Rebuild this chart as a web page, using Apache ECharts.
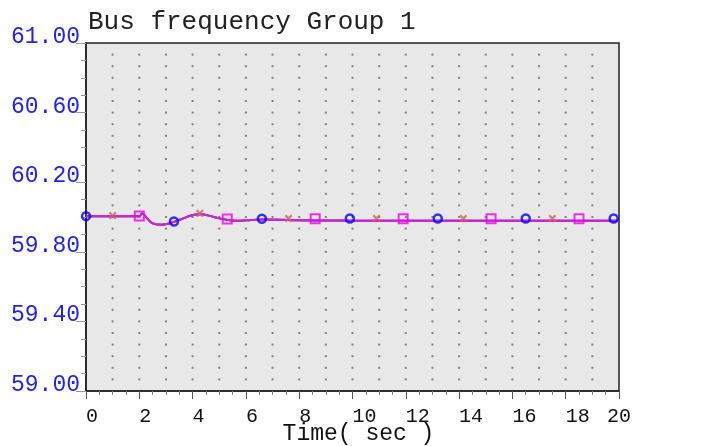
<!DOCTYPE html>
<html>
<head>
<meta charset="utf-8">
<script src="https://cdn.jsdelivr.net/npm/echarts@6/dist/echarts.min.js"></script>
<style>
html,body{margin:0;padding:0;background:#fff;}
#c{width:725px;height:446px;}
</style>
</head>
<body>
<div id="c"></div>
<script>
// ---- data ----
var titleText = 'Bus frequency Group 1';
var xName = 'Time( sec )';
var timeSec = [0, 1, 2, 2.1, 2.25, 2.5, 2.8, 3.1, 3.3, 3.7, 4.0, 4.3, 4.6, 5.0, 5.4, 5.8, 6.2, 6.6, 7.2, 8.0, 9.0, 10, 12, 14, 16, 18, 20];
var freqBlue    = [60.004, 60.004, 60.004, 60.020, 60.000, 59.963, 59.956, 59.962, 59.972, 59.995, 60.012, 60.016, 60.008, 59.992, 59.982, 59.979, 59.983, 59.985, 59.984, 59.981, 59.980, 59.979, 59.978, 59.978, 59.978, 59.978, 59.978];
var freqRed     = [60.004, 60.004, 60.004, 60.020, 60.000, 59.963, 59.956, 59.962, 59.972, 59.995, 60.012, 60.016, 60.008, 59.992, 59.982, 59.979, 59.983, 59.985, 59.984, 59.981, 59.980, 59.979, 59.978, 59.978, 59.978, 59.978, 59.978];
var freqMagenta = [60.004, 60.004, 60.004, 60.022, 60.000, 59.963, 59.956, 59.962, 59.972, 59.995, 60.012, 60.016, 60.008, 59.992, 59.982, 59.979, 59.983, 59.985, 59.984, 59.981, 59.980, 59.979, 59.978, 59.978, 59.978, 59.978, 59.978];
var circleT = [0, 3.3, 6.6, 9.9, 13.2, 16.5, 19.8];
var circleV = [60.005, 59.974, 59.990, 59.991, 59.991, 59.991, 59.991];
var crossT  = [1.0, 4.27, 7.6, 10.9, 14.16, 17.5];
var crossV  = [60.008, 60.021, 59.992, 59.992, 59.992, 59.992];
var squareT = [2.0, 5.3, 8.6, 11.9, 15.2, 18.5];
var squareV = [60.006, 59.989, 59.990, 59.990, 59.990, 59.990];
var xMin = 0, xMax = 20, xStep = 2;
var yMin = 59.0, yMax = 61.0, yStep = 0.4;

function pairs(xs, ys){ return xs.map(function(x,i){ return [x, ys[i]]; }); }

// dotted background grid (1 s horizontally, 1/30 of range vertically)
var dots = [];
for (var gx = 1; gx < 20; gx++) {
  for (var gy = 1; gy < 30; gy++) {
    dots.push([gx, yMin + gy * (yMax - yMin) / 30]);
  }
}

var mono = 'Liberation Mono';
var chart = echarts.init(document.getElementById('c'), null, {renderer: 'canvas'});
chart.setOption({
  animation: false,
  backgroundColor: '#ffffff',
  title: {
    text: titleText, left: 83, top: 4,
    textStyle: {fontFamily: mono, fontSize: 26, fontWeight: 'normal', color: '#222'}
  },
  grid: {
    left: 86, top: 43, right: 106, bottom: 55,
    containLabel: false, outerBoundsMode: 'none',
    show: true, backgroundColor: '#e8e8e8', borderColor: '#222', borderWidth: 1.5
  },
  xAxis: {
    type: 'value', min: xMin, max: xMax, interval: xStep,
    name: xName, nameLocation: 'middle', nameGap: 31, nameMoveOverlap: false,
    nameTextStyle: {fontFamily: mono, fontSize: 23, color: '#111', padding: [0, 0, 0, 12]},
    axisLine: {show: true, onZero: false, lineStyle: {color: '#222', width: 1.5}},
    axisTick: {show: true, length: 8, lineStyle: {color: '#555'}},
    minorTick: {show: true, splitNumber: 4, length: 4, lineStyle: {color: '#777'}},
    axisLabel: {fontFamily: mono, fontSize: 20, color: '#111', margin: 16, align: 'left', alignMaxLabel: 'center'},
    splitLine: {show: false}
  },
  yAxis: {
    type: 'value', min: yMin, max: yMax, interval: yStep,
    axisLine: {show: true, onZero: false, lineStyle: {color: '#222', width: 1.5}},
    axisTick: {show: true, length: 10, lineStyle: {color: '#999'}},
    minorTick: {show: true, splitNumber: 4, length: 5, lineStyle: {color: '#999'}},
    axisLabel: {fontFamily: mono, fontSize: 23, lineHeight: 12, color: '#2222ee', margin: 6, verticalAlign: 'bottom',
      formatter: function(v){ return v.toFixed(2); }},
    splitLine: {show: false}
  },
  series: [
    {type: 'scatter', data: dots, symbol: 'rect', symbolSize: 2, silent: true,
     itemStyle: {color: '#666'}, z: 1},
    {type: 'line', data: pairs(timeSec, freqBlue), smooth: 0.4, showSymbol: false,
     lineStyle: {color: '#2222ff', width: 2}, z: 2},
    {type: 'line', data: pairs(timeSec, freqRed), smooth: 0.4, showSymbol: false,
     lineStyle: {color: '#cc5555', width: 2}, z: 3},
    {type: 'line', data: pairs(timeSec, freqMagenta), smooth: 0.4, showSymbol: false,
     lineStyle: {color: '#cc22dd', width: 2}, z: 4},
    {type: 'scatter', data: pairs(circleT, circleV), symbol: 'circle', symbolSize: 8,
     itemStyle: {color: 'rgba(0,0,0,0)', borderColor: '#0000ff', borderWidth: 2.5}, z: 5},
    {type: 'scatter', data: pairs(crossT, crossV),
     symbol: 'path://M0,2 L2,0 L5,3 L8,0 L10,2 L7,5 L10,8 L8,10 L5,7 L2,10 L0,8 L3,5 Z', symbolSize: 8,
     itemStyle: {color: '#d06060'}, z: 5},
    {type: 'scatter', data: pairs(squareT, squareV), symbol: 'rect', symbolSize: 9,
     itemStyle: {color: 'rgba(0,0,0,0)', borderColor: '#ee00ee', borderWidth: 2}, z: 5}
  ]
});
</script>
</body>
</html>
